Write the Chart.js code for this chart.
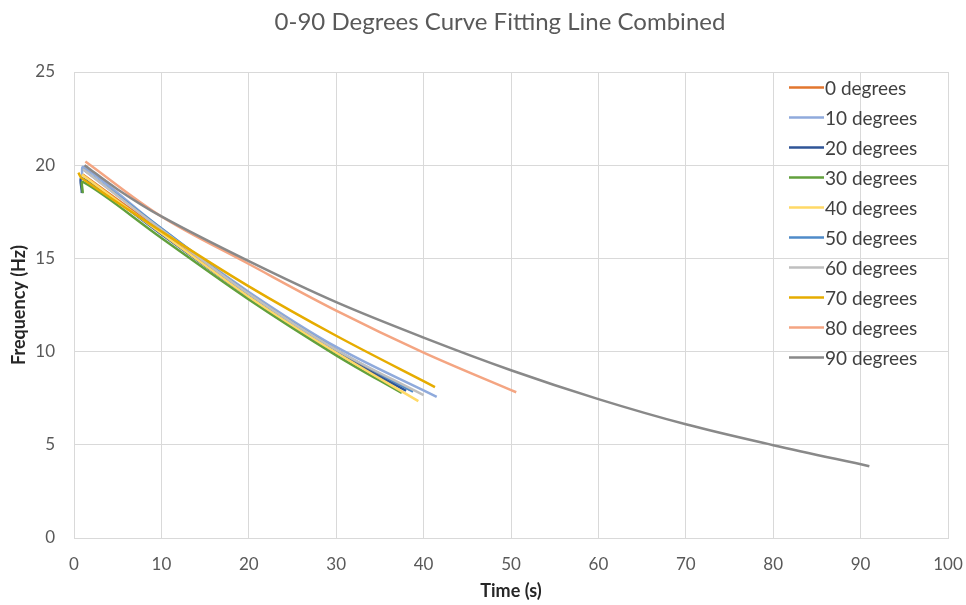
<!DOCTYPE html>
<html>
<head>
<meta charset="utf-8">
<script src="https://cdn.jsdelivr.net/npm/chart.js@4.4.1/dist/chart.umd.min.js"></script>
<style>
  html, body { margin: 0; padding: 0; background: #ffffff; }
  #wrap { width: 966px; height: 605px; }
</style>
</head>
<body>
<div id="wrap"><canvas id="chart" width="966" height="605"></canvas></div>
<script>
// Fitted frequency decay curves, one per release angle
const seriesLabels = ['0 degrees', '10 degrees', '20 degrees', '30 degrees', '40 degrees',
                      '50 degrees', '60 degrees', '70 degrees', '80 degrees', '90 degrees'];

const time0  = [1.0, 10, 20, 30, 38.5];
const freq0  = [19.5, 16.45, 13.0, 10.0, 7.95];

const time10 = [0.9, 1.1, 10, 20, 30, 41.5];
const freq10 = [19.4, 19.9, 16.6, 13.2, 10.25, 7.57];

const time20 = [0.9, 0.95, 10, 20, 30, 38.0];
const freq20 = [18.5, 19.3, 16.3, 12.95, 9.95, 7.9];

const time30 = [1.0, 1.05, 10, 20, 30, 37.5];
const freq30 = [18.5, 19.1, 16.1, 12.8, 9.8, 7.78];

const time40 = [0.9, 10, 20, 30, 39.4];
const freq40 = [19.5, 16.35, 12.95, 9.95, 7.34];

const time50 = [1.0, 10, 20, 30, 38.8];
const freq50 = [19.8, 16.6, 13.1, 10.1, 7.85];

const time60 = [1.0, 10, 20, 30, 40.0];
const freq60 = [19.8, 16.55, 13.1, 10.1, 7.66];

const time70 = [0.5, 0.9, 10, 20, 30, 41.3];
const freq70 = [19.6, 19.3, 16.45, 13.5, 10.85, 8.1];

const time80 = [1.3, 10, 20, 30, 40, 50.6];
const freq80 = [20.2, 17.25, 14.7, 12.2, 9.95, 7.82];

const time90 = [1.2, 5, 10, 20, 30, 40, 50, 60, 70, 80, 91];
const freq90 = [20.0, 18.7, 17.25, 14.85, 12.65, 10.75, 9.0, 7.45, 6.1, 4.98, 3.85];

const xTicks = [0, 10, 20, 30, 40, 50, 60, 70, 80, 90, 100];
const yTicks = [0, 5, 10, 15, 20, 25];

const seriesColors = ['#E2762E', '#8FAADC', '#2F5597', '#62A03D', '#FFD966',
                      '#4F8BC9', '#BFBFBF', '#E6AC00', '#F4A582', '#898989'];

const times = [time0, time10, time20, time30, time40, time50, time60, time70, time80, time90];
const freqs = [freq0, freq10, freq20, freq30, freq40, freq50, freq60, freq70, freq80, freq90];

const datasets = seriesLabels.map((label, i) => ({
  label,
  data: times[i].map((t, k) => ({ x: t, y: freqs[i][k] })),
  borderColor: seriesColors[i],
  backgroundColor: seriesColors[i],
  borderWidth: 2.5,
  showLine: true,
  pointRadius: 0,
  pointHoverRadius: 0,
  tension: 0.35,
  order: seriesLabels.length - i   // later angles drawn on top
}));

const FONT = 'Lato, "Open Sans", sans-serif';
const TITLE = '0-90 Degrees Curve Fitting Line Combined';

// Chart heading plus the legend column inside the plot, on the right
const chartDecor = {
  id: 'chartDecor',
  afterDraw(chart) {
    const ctx = chart.ctx;
    ctx.save();
    ctx.font = '24px ' + FONT;
    ctx.fillStyle = '#595959';
    ctx.textAlign = 'center';
    ctx.textBaseline = 'middle';
    ctx.fillText(TITLE, 500, 22);

    const x0 = 789, y0 = 87.5, step = 30;
    ctx.font = '19px ' + FONT;
    ctx.textAlign = 'left';
    chart.data.datasets.forEach((ds, i) => {
      const y = y0 + i * step;
      ctx.strokeStyle = ds.borderColor;
      ctx.lineWidth = 2.5;
      ctx.beginPath();
      ctx.moveTo(x0, y);
      ctx.lineTo(x0 + 35, y);
      ctx.stroke();
      ctx.fillStyle = '#404040';
      ctx.fillText(ds.label, x0 + 36, y + 1);
    });
    ctx.restore();
  }
};

new Chart(document.getElementById('chart'), {
  type: 'scatter',
  data: { datasets },
  plugins: [chartDecor],
  options: {
    responsive: false,
    animation: false,
    events: [],
    layout: { padding: { left: 0, right: 18, top: 72, bottom: 0 } },
    plugins: {
      legend: { display: false },
      tooltip: { enabled: false },
      title: { display: false }
    },
    scales: {
      x: {
        type: 'linear',
        min: 0, max: 100,
        afterBuildTicks(scale) { scale.ticks = xTicks.map(v => ({ value: v })); },
        afterFit(scale) {
          scale.height = 67;
          scale.paddingLeft = 0;
          scale.paddingRight = 0;
        },
        ticks: { color: '#595959', font: { family: FONT, size: 17 }, padding: 16 },
        grid: { color: '#D9D9D9', lineWidth: 1, drawTicks: false },
        border: { color: '#D9D9D9' },
        title: {
          display: true, text: 'Time (s)', color: '#262626',
          font: { family: FONT, size: 18, weight: 'bold' },
          padding: { top: 0, bottom: 3 }
        }
      },
      y: {
        type: 'linear',
        min: 0, max: 25,
        afterBuildTicks(scale) { scale.ticks = yTicks.map(v => ({ value: v })); },
        afterFit(scale) {
          scale.width = 74;
          scale.paddingTop = 0;
          scale.paddingBottom = 0;
        },
        ticks: { color: '#595959', font: { family: FONT, size: 17 }, padding: 19 },
        grid: { color: '#D9D9D9', lineWidth: 1, drawTicks: false },
        border: { display: false },
        title: {
          display: true, text: 'Frequency (Hz)', color: '#262626',
          font: { family: FONT, size: 18, weight: 'bold' },
          padding: { top: 8, bottom: 0 }
        }
      }
    }
  }
});
</script>
</body>
</html>
